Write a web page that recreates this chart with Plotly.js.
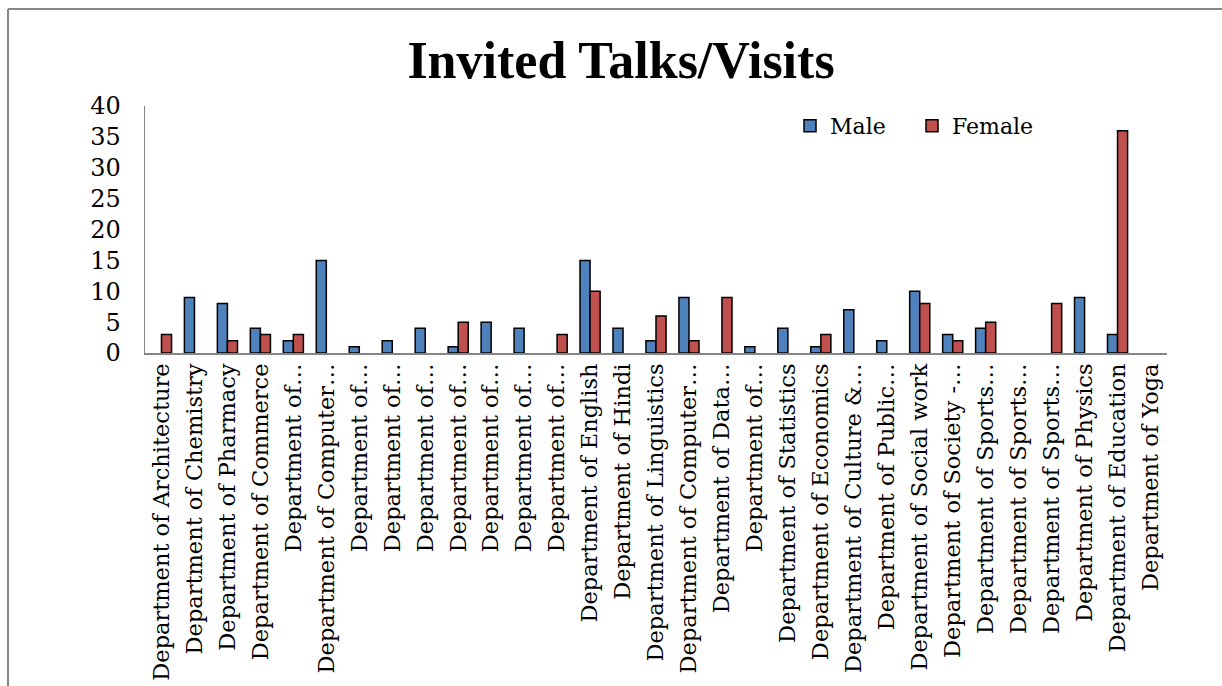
<!DOCTYPE html>
<html>
<head>
<meta charset="utf-8">
<script src="https://cdn.plot.ly/plotly-3.0.1.min.js"></script>
<style>html,body{margin:0;padding:0;background:#fff;}#chart{width:1222px;height:686px;}</style>
</head>
<body>
<div id="chart"></div>
<script>
const categories = [
  "Department of Architecture","Department of Chemistry","Department of Pharmacy","Department of Commerce",
  "Department of…","Department of Computer…","Department of…","Department of…","Department of…",
  "Department of…","Department of…","Department of…","Department of…","Department of English",
  "Department of Hindi","Department of Linguistics","Department of Computer…","Department of Data…",
  "Department of…","Department of Statistics","Department of Economics","Department of Culture &…",
  "Department of Public…","Department of Social work","Department of Society -…","Department of Sports…",
  "Department of Sports…","Department of Sports…","Department of Physics","Department of Education",
  "Department of Yoga"
];
const male   = [0,9,8,4,2,15,1,2,4,1,5,4,0,15,4,2,9,0,1,4,1,7,2,10,3,4,0,0,9,3,0];
const female = [3,0,2,3,3,0,0,0,0,5,0,0,3,10,0,6,2,9,0,0,3,0,0,8,2,5,0,8,0,36,0];
const yTicks = [0,5,10,15,20,25,30,35,40];

const W = 1222, H = 686;
const mL = 145, mR = 55, mT = 106, mB = 333;
const idx = categories.map((_, i) => i);
const nz = a => a.map(v => v === 0 ? null : v);
const serif = "DejaVu Serif";

const traces = [
  {type:'bar', name:'Male', x: idx, y: nz(male),
   marker:{color:'#4F81BD', line:{color:'#000', width:1.5}}},
  {type:'bar', name:'Female', x: idx, y: nz(female),
   marker:{color:'#C0504D', line:{color:'#000', width:1.5}}}
];

const pw = W - mL - mR, ph = H - mT - mB;
const px = v => (v - mL) / pw;
const py = v => (H - mB - v) / ph;

const layout = {
  width: W, height: H,
  margin: {l: mL, r: mR, t: mT, b: mB, autoexpand: false},
  paper_bgcolor: '#fff', plot_bgcolor: '#fff',
  title: {text: '<b>Invited Talks/Visits</b>', font: {family: 'Liberation Serif', size: 52, color: '#000'},
          xref: 'container', x: 621 / W, xanchor: 'center', y: 1 - 60/H, yanchor: 'middle'},
  barmode: 'group', bargap: 0.39, bargroupgap: 0,
  showlegend: true,
  legend: {orientation: 'h', x: px(790), y: py(126), xanchor: 'left', yanchor: 'middle',
           font: {family: serif, size: 22, color: '#000'}, entrywidth: 77, entrywidthmode: 'pixels',
           bgcolor: 'rgba(0,0,0,0)', itemwidth: 30, traceorder: 'normal'},
  xaxis: {tickmode: 'array', tickvals: idx, ticktext: categories, tickangle: -90,
          range: [-0.5, categories.length - 0.5], automargin: false,
          showline: true, linecolor: '#868686', linewidth: 1.5, ticks: '', showgrid: false, zeroline: false,
          tickfont: {family: serif, size: 22.5, color: '#000'}, fixedrange: true},
  yaxis: {range: [0, 40], tickmode: 'array', tickvals: yTicks, ticktext: yTicks.map(String),
          showline: true, linecolor: '#868686', linewidth: 1.5, ticks: '', showgrid: false, zeroline: false,
          tickfont: {family: serif, size: 24, color: '#000'}, ticklabelstandoff: 18, automargin: false, fixedrange: true},
  shapes: [
    {type:'line', xref:'paper', yref:'paper', x0: px(8), x1: px(1222), y0: py(9), y1: py(9), line:{color:'#878787', width:2}},
    {type:'line', xref:'paper', yref:'paper', x0: px(8), x1: px(8), y0: py(9), y1: py(686), line:{color:'#878787', width:2}}
  ]
};

Plotly.newPlot('chart', traces, layout, {staticPlot: true, displayModeBar: false});
</script>
</body>
</html>
